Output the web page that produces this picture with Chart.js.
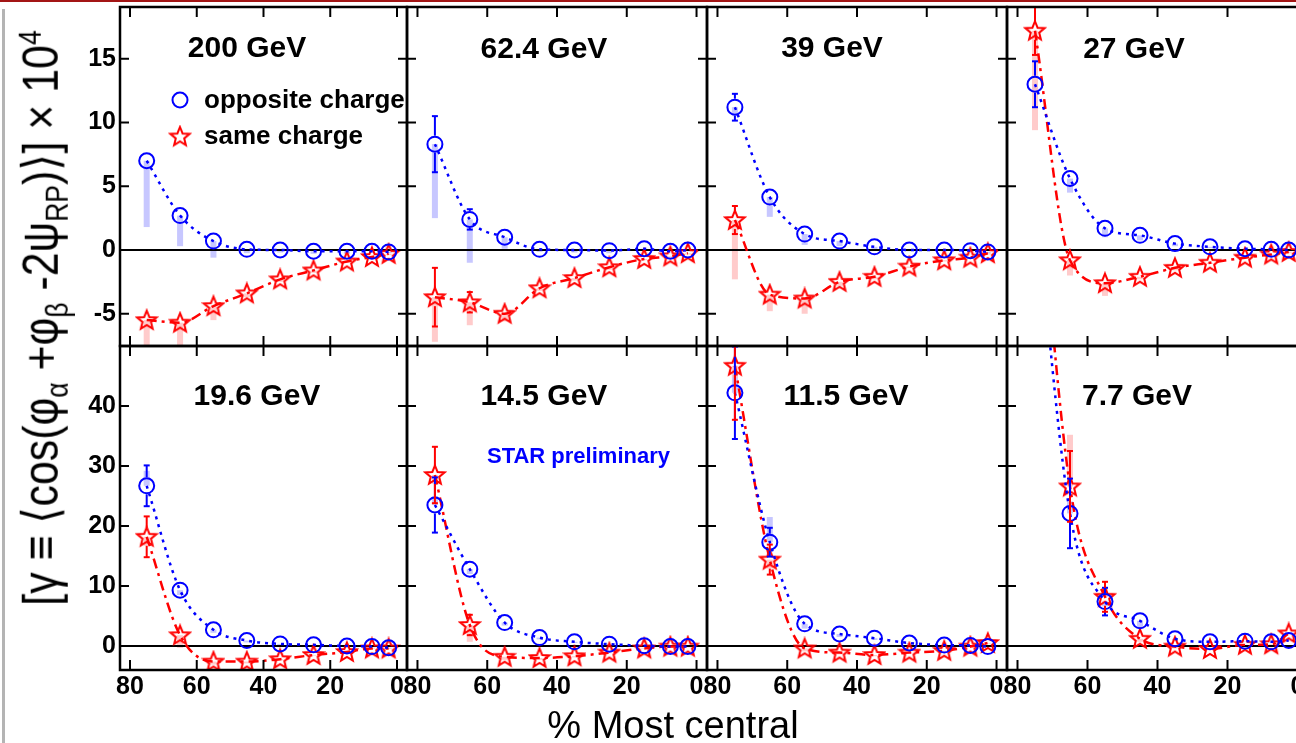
<!DOCTYPE html>
<html>
<head>
<meta charset="utf-8">
<script src="https://cdn.jsdelivr.net/npm/chart.js@4.4.0/dist/chart.umd.min.js"></script>
<style>
html, body { margin: 0; padding: 0; background: #fff; }
body { width: 1296px; height: 743px; overflow: hidden; position: relative; font-family: 'Liberation Sans', Arial, sans-serif; }
canvas.panel { position: absolute; left: -100px; top: -50px; }
.topbar { position: absolute; left: 0; top: 0; width: 1296px; height: 2px; background: #a31515; }
.sidebar { position: absolute; left: 2px; top: 9px; width: 3px; height: 734px; background: #b4b4b4; }
.lbl { position: absolute; white-space: nowrap; line-height: 1; color: #000; }
.title { font-size: 30px; font-weight: bold; transform: translateX(-50%); }
.leg { font-size: 26px; font-weight: bold; }
.star { font-size: 22px; font-weight: bold; color: #0000ff; }
.xtitle { font-size: 38px; transform: translateX(-50%); }
#ytitle { font-size: 50px; }
.sub { font-size: 0.62em; position: relative; top: 0.32em; }
.sup { font-size: 0.62em; position: relative; top: -0.55em; }
</style>
</head>
<body>
<div class="topbar"></div>
<div class="sidebar"></div>
<div id="panels"></div>

<script>
// centrality bins (% most central)
const centrality = [75, 65, 55, 45, 35, 25, 15, 7.5, 2.5];
const energies = ['200 GeV', '62.4 GeV', '39 GeV', '27 GeV', '19.6 GeV', '14.5 GeV', '11.5 GeV', '7.7 GeV'];
const xTicks = [0, 20, 40, 60, 80];
const yTicksTop = [-5, 0, 5, 10, 15];
const yTicksBottom = [0, 10, 20, 30, 40];

// gamma x 10^4, opposite charge
const oppGamma = [
    [7.0, 2.7, 0.7, 0.05, 0.0, -0.1, -0.1, -0.1, -0.15],
    [8.3, 2.4, 1.0, 0.05, 0.0, -0.05, 0.1, -0.1, 0.0],
    [11.2, 4.15, 1.25, 0.7, 0.25, 0.0, 0.0, -0.05, -0.15],
    [13.0, 5.6, 1.7, 1.15, 0.5, 0.25, 0.1, 0.05, 0.0],
    [26.7, 9.3, 2.7, 0.9, 0.35, 0.2, 0.0, -0.1, -0.3],
    [23.5, 12.8, 3.9, 1.4, 0.7, 0.3, 0.05, -0.1, -0.1],
    [42.2, 17.3, 3.7, 2.0, 1.3, 0.5, 0.15, 0.1, -0.1],
    [75.0, 22.1, 7.4, 4.2, 1.2, 0.7, 0.8, 0.7, 0.9]
];
const oppStat = [
    [0.3, 0.2, 0.1, 0.1, 0.1, 0.1, 0.1, 0.1, 0.1],
    [2.2, 0.8, 0.2, 0.1, 0.1, 0.1, 0.1, 0.1, 0.1],
    [1.05, 0.3, 0.15, 0.1, 0.1, 0.1, 0.1, 0.1, 0.1],
    [1.8, 0.4, 0.2, 0.1, 0.1, 0.1, 0.1, 0.1, 0.1],
    [3.4, 0.6, 0.3, 0.2, 0.1, 0.1, 0.1, 0.1, 0.1],
    [4.6, 0.8, 0.4, 0.2, 0.1, 0.1, 0.1, 0.1, 0.1],
    [7.7, 2.4, 0.6, 0.3, 0.2, 0.1, 0.1, 0.1, 0.1],
    [10.0, 5.8, 2.3, 0.6, 0.3, 0.2, 0.2, 0.2, 0.2]
];
// systematic extent from the point (negative = downwards)
const oppSys = [
    [-5.2, -2.4, -1.3, -0.3, -0.2, -0.2, -0.2, -0.1, -0.1],
    [-5.8, -3.4, -0.9, -0.2, -0.2, -0.2, -0.1, -0.1, -0.1],
    [-0.7, -1.55, -0.85, -0.4, -0.2, -0.1, -0.1, -0.1, -0.1],
    [-0.5, -1.1, -0.7, -0.4, -0.2, -0.1, -0.1, -0.1, -0.1],
    [2.5, -0.8, -0.5, -0.3, -0.2, -0.1, -0.1, -0.1, -0.1],
    [1.5, -0.8, -0.5, -0.3, -0.2, -0.1, -0.1, -0.1, -0.1],
    [3.0, 4.2, -0.8, -0.5, -0.3, -0.2, -0.1, -0.1, -0.1],
    [3.0, 2.0, -0.8, -1.2, -0.3, -0.2, -0.1, -0.1, -0.1]
];

// gamma x 10^4, same charge
const sameGamma = [
    [-5.5, -5.7, -4.4, -3.4, -2.3, -1.6, -0.9, -0.55, -0.3],
    [-3.7, -4.1, -5.0, -3.0, -2.2, -1.35, -0.7, -0.5, -0.25],
    [2.35, -3.5, -3.8, -2.5, -2.1, -1.3, -0.8, -0.6, -0.25],
    [17.2, -0.8, -2.6, -2.1, -1.4, -1.0, -0.6, -0.35, -0.15],
    [18.2, 1.8, -2.6, -2.6, -2.2, -1.5, -1.0, -0.4, -0.4],
    [28.5, 3.5, -1.8, -2.0, -1.7, -1.1, -0.4, -0.1, -0.1],
    [46.7, 14.4, -0.4, -1.1, -1.5, -1.1, -0.8, -0.1, 0.5],
    [85.0, 26.6, 8.2, 1.2, -0.1, -0.5, 0.2, 0.3, 2.1]
];
const sameStat = [
    [0.3, 0.3, 0.2, 0.1, 0.1, 0.1, 0.1, 0.1, 0.1],
    [2.3, 0.8, 0.3, 0.2, 0.1, 0.1, 0.1, 0.1, 0.1],
    [1.1, 0.3, 0.2, 0.1, 0.1, 0.1, 0.1, 0.1, 0.1],
    [1.9, 0.5, 0.2, 0.1, 0.1, 0.1, 0.1, 0.1, 0.1],
    [3.4, 0.6, 0.3, 0.2, 0.1, 0.1, 0.1, 0.1, 0.1],
    [4.7, 1.7, 0.3, 0.2, 0.1, 0.1, 0.1, 0.1, 0.1],
    [9.0, 2.5, 0.4, 0.3, 0.2, 0.1, 0.1, 0.1, 0.1],
    [6.0, 5.9, 2.5, 0.5, 0.3, 0.2, 0.2, 0.2, 0.2]
];
const sameSys = [
    [-2.5, -1.8, -1.1, -0.3, -0.2, -0.2, -0.1, -0.1, -0.1],
    [-3.5, -1.8, -0.6, -0.2, -0.2, -0.2, -0.1, -0.1, -0.1],
    [-4.65, -1.3, -1.2, -0.3, -0.2, -0.1, -0.1, -0.1, -0.1],
    [-7.8, -1.2, -1.0, -0.2, -0.2, -0.1, -0.1, -0.1, -0.1],
    [-1.5, -2.1, -0.5, -0.3, -0.2, -0.1, -0.1, -0.1, -0.1],
    [-1.5, -2.8, -0.5, -0.3, -0.2, -0.1, -0.1, -0.1, -0.1],
    [-2.0, -1.5, -0.5, -0.3, -0.2, -0.1, -0.1, -0.1, -0.1],
    [3.0, 8.6, 1.5, -0.5, -0.3, -0.2, -0.1, -0.1, -0.1]
];

// page layout
const OX = 100, OY = 50, CW = 1520, CH = 850;
const colEdges = [120, 407, 707, 1007, 1308];
const rowEdges = [7, 346, 670];
const yRanges = [[-7.53, 19.06], [-4, 50]];
const Y_AXIS_W = 50, X_AXIS_H = 34;
const BLUE = '#0000ff', RED = '#ff0000';
const tickFont = { family: "'Liberation Sans Narrow', 'Liberation Sans', Arial, sans-serif", size: 25, weight: 'bold' };

function makeStar(color) {
    const c = document.createElement('canvas');
    c.width = 24; c.height = 24;
    const g = c.getContext('2d');
    g.beginPath();
    for (let i = 0; i < 10; i++) {
        const r = i % 2 ? 4.4 : 10;
        const a = -Math.PI / 2 + i * Math.PI / 5;
        const px = 12 + r * Math.cos(a), py = 12.5 + r * Math.sin(a);
        if (i) g.lineTo(px, py); else g.moveTo(px, py);
    }
    g.closePath();
    g.strokeStyle = color;
    g.lineWidth = 2;
    g.stroke();
    return c;
}
const starImg = makeStar(RED);

function line(ctx, x1, y1, x2, y2) {
    ctx.beginPath(); ctx.moveTo(x1, y1); ctx.lineTo(x2, y2); ctx.stroke();
}

function drawSys(ctx, x, y, vals, ext, color) {
    ctx.fillStyle = color;
    centrality.forEach((c, i) => {
        const px = x.getPixelForValue(c);
        const p1 = y.getPixelForValue(vals[i]);
        const p2 = y.getPixelForValue(vals[i] + ext[i]);
        ctx.fillRect(px - 3, Math.min(p1, p2), 6, Math.abs(p2 - p1));
    });
}

function drawStat(ctx, x, y, vals, errs, color, gap) {
    ctx.strokeStyle = color;
    ctx.lineWidth = 2;
    centrality.forEach((c, i) => {
        const px = x.getPixelForValue(c);
        const py = y.getPixelForValue(vals[i]);
        const hi = y.getPixelForValue(vals[i] + errs[i]);
        const lo = y.getPixelForValue(vals[i] - errs[i]);
        if (py - hi > gap) {
            line(ctx, px, py - gap, px, hi);
            line(ctx, px - 3, hi, px + 3, hi);
        }
        if (lo - py > gap) {
            line(ctx, px, py + gap, px, lo);
            line(ctx, px - 3, lo, px + 3, lo);
        }
    });
}

function decorPlugin(p, yTicks) {
    return {
        id: 'decor' + p,
        beforeDatasetsDraw(chart) {
            const { ctx, chartArea: a, scales: { x, y } } = chart;
            ctx.save();
            ctx.beginPath();
            ctx.rect(a.left, a.top, a.right - a.left, a.bottom - a.top);
            ctx.clip();
            drawSys(ctx, x, y, oppGamma[p], oppSys[p], 'rgba(185,185,255,0.8)');
            drawSys(ctx, x, y, sameGamma[p], sameSys[p], 'rgba(255,190,190,0.8)');
            ctx.strokeStyle = '#000';
            ctx.lineWidth = 2;
            const y0 = y.getPixelForValue(0);
            line(ctx, a.left, y0, a.right, y0);
            ctx.restore();
        },
        afterDatasetsDraw(chart) {
            const { ctx, chartArea: a, scales: { x, y } } = chart;
            ctx.save();
            ctx.beginPath();
            ctx.rect(a.left, a.top, a.right - a.left, a.bottom - a.top);
            ctx.clip();
            drawStat(ctx, x, y, oppGamma[p], oppStat[p], BLUE, 8.5);
            drawStat(ctx, x, y, sameGamma[p], sameStat[p], RED, 9);
            ctx.restore();
        },
        afterDraw(chart) {
            const { ctx, chartArea: a, scales: { x, y } } = chart;
            ctx.save();
            ctx.strokeStyle = '#000';
            ctx.lineWidth = 2;
            xTicks.forEach(v => {
                const px = x.getPixelForValue(v);
                line(ctx, px, a.bottom, px, a.bottom - 10);
                line(ctx, px, a.top, px, a.top + 10);
            });
            yTicks.forEach(v => {
                const py = y.getPixelForValue(v);
                line(ctx, a.left, py, a.left + 9, py);
                line(ctx, a.right, py, a.right - 9, py);
            });
            ctx.lineWidth = 2.5;
            ctx.strokeRect(a.left, a.top, a.right - a.left, a.bottom - a.top);
            if (p === 0) {
                ctx.strokeStyle = BLUE;
                ctx.lineWidth = 2;
                ctx.beginPath();
                ctx.arc(OX + 180, OY + 100, 7.5, 0, 2 * Math.PI);
                ctx.stroke();
                ctx.drawImage(starImg, OX + 180 - 12, OY + 137 - 12.5);
            }
            ctx.restore();
        }
    };
}

function makePanel(p) {
    const row = Math.floor(p / 4), col = p % 4;
    const firstCol = col === 0, bottomRow = row === 1;
    const yTicks = bottomRow ? yTicksBottom : yTicksTop;

    const canvas = document.createElement('canvas');
    canvas.className = 'panel';
    canvas.width = CW;
    canvas.height = CH;
    document.getElementById('panels').appendChild(canvas);

    const zeroPad = s => { s.paddingLeft = 0; s.paddingRight = 0; s.paddingTop = 0; s.paddingBottom = 0; };

    new Chart(canvas.getContext('2d'), {
        type: 'line',
        data: {
            datasets: [{
                data: centrality.map((c, i) => ({ x: c, y: oppGamma[p][i] })),
                borderColor: BLUE,
                borderWidth: 2.5,
                borderDash: [3, 5],
                pointStyle: 'circle',
                pointRadius: 7.5,
                pointBorderWidth: 2,
                pointBorderColor: BLUE,
                pointBackgroundColor: 'rgba(0,0,0,0)',
                cubicInterpolationMode: 'monotone',
                fill: false
            }, {
                data: centrality.map((c, i) => ({ x: c, y: sameGamma[p][i] })),
                borderColor: RED,
                borderWidth: 2.5,
                borderDash: [10, 5, 3, 5],
                pointStyle: starImg,
                pointRadius: 10,
                cubicInterpolationMode: 'monotone',
                fill: false
            }]
        },
        options: {
            responsive: false,
            animation: false,
            devicePixelRatio: 1,
            events: [],
            layout: {
                padding: {
                    left: OX + colEdges[col] - (firstCol ? Y_AXIS_W : 0),
                    top: OY + rowEdges[row],
                    right: CW - (OX + colEdges[col + 1]),
                    bottom: CH - (OY + rowEdges[row + 1]) - (bottomRow ? X_AXIS_H : 0)
                }
            },
            plugins: {
                legend: { display: false },
                tooltip: { enabled: false }
            },
            scales: {
                x: {
                    type: 'linear',
                    reverse: true,
                    min: -3,
                    max: 83,
                    grid: { display: false, drawTicks: false },
                    border: { display: false },
                    afterBuildTicks: s => { s.ticks = xTicks.map(v => ({ value: v })); },
                    afterFit: s => { s.height = bottomRow ? X_AXIS_H : 0; zeroPad(s); },
                    ticks: {
                        display: bottomRow,
                        autoSkip: false,
                        maxRotation: 0,
                        padding: 2,
                        color: '#000',
                        font: tickFont
                    }
                },
                y: {
                    type: 'linear',
                    min: yRanges[row][0],
                    max: yRanges[row][1],
                    grid: { display: false, drawTicks: false },
                    border: { display: false },
                    afterBuildTicks: s => { s.ticks = yTicks.map(v => ({ value: v })); },
                    afterFit: s => { s.width = firstCol ? Y_AXIS_W : 0; zeroPad(s); },
                    ticks: {
                        display: firstCol,
                        padding: 4,
                        color: '#000',
                        font: tickFont
                    }
                }
            }
        },
        plugins: [decorPlugin(p, yTicks)]
    });
}

energies.forEach((e, p) => makePanel(p));

// text labels
const titlePos = [
    [247, 57], [544, 58], [832, 57], [1134, 58],
    [257, 405], [544, 405], [846, 405], [1137, 405]
];
function addLabel(cls, html, left, baseline, size) {
    const d = document.createElement('div');
    d.className = 'lbl ' + cls;
    d.innerHTML = html;
    d.style.left = left + 'px';
    d.style.top = (baseline - 0.8465 * size) + 'px';
    document.body.appendChild(d);
    return d;
}
energies.forEach((e, p) => addLabel('title', e, titlePos[p][0], titlePos[p][1], 30));
addLabel('leg', 'opposite charge', 204, 108, 26);
addLabel('leg', 'same charge', 204, 144, 26);
addLabel('star', 'STAR preliminary', 487, 464, 22);
addLabel('xtitle', '% Most central', 673, 738, 38);

const yt = document.createElement('div');
yt.id = 'ytitle';
yt.className = 'lbl';
yt.innerHTML = '[&gamma; &equiv; &#10216;cos(&phi;<span class="sub">&alpha;</span> +&phi;<span class="sub">&beta;</span> -2&psi;<span class="sub">RP</span>)&#10217;] &times; 10<span class="sup">4</span>';
document.body.appendChild(yt);
const ytW = yt.offsetWidth;
yt.style.left = (40 - ytW / 2) + 'px';
yt.style.top = (318 - 25) + 'px';
yt.style.transform = 'rotate(-90deg) scaleX(' + (575 / ytW) + ')';
</script>
</body>
</html>
